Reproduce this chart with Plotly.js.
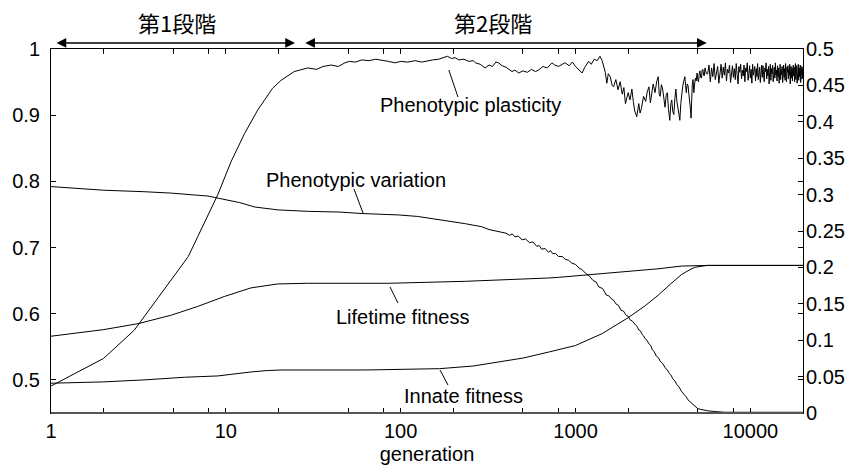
<!DOCTYPE html>
<html>
<head>
<meta charset="utf-8">
<script src="https://cdn.plot.ly/plotly-3.0.1.min.js"></script>
<style>html,body{margin:0;padding:0;background:#fff;}#chart{width:854px;height:466px;}</style>
</head>
<body>
<div id="chart"></div>
<script>
// ---- data ----
// Phenotypic plasticity (right axis)
const plastGen = [
  1, 2, 3, 3.9, 4.9, 6.1, 6.9, 7.9, 9, 10.7, 12.8, 15.2, 18.5, 20.7, 24.6, 29.4,
  33, 36, 40, 44, 48, 51, 55, 60, 66, 72, 78, 85, 93, 100, 110, 121, 132, 142, 152,
  165, 175, 185, 195, 205, 215, 230, 245, 260, 268, 285, 304, 320, 335, 350, 363,
  380, 400, 420, 433, 450, 474, 500, 530, 560, 590, 614, 650, 690, 733, 760, 800,
  840, 873, 920, 960, 1000, 1040, 1090, 1130, 1190, 1230, 1280, 1330, 1380,
  1420, 1450, 1480, 1510, 1540, 1580, 1620, 1650, 1700, 1750, 1800, 1850, 1890,
  1930, 1970, 2000, 2050, 2100, 2140, 2180, 2240, 2300, 2340, 2380, 2450, 2520,
  2570, 2630, 2680, 2720, 2780, 2850, 2910, 2970, 3010, 3050, 3100, 3150, 3200,
  3250, 3300, 3350, 3400, 3460, 3510, 3550, 3600, 3650, 3700, 3750, 3800, 3850,
  3900, 3950, 4000, 4050, 4100, 4150, 4220, 4260, 4300, 4350, 4400, 4450, 4500,
  4540, 4580, 4620, 4650, 4700, 4750, 4800, 4850, 4900, 4960, 5000, 5050, 5100,
  5150, 5200, 5250, 5300, 5350, 5400, 5450, 5500, 5600,
  5700, 5800, 5900, 6000, 6100, 6200, 6300, 6400, 6500, 6600, 6700, 6800,
  6900, 7000, 7100, 7200, 7300, 7400, 7500, 7600, 7700, 7800, 7900, 8000,
  8100, 8200, 8300, 8400, 8500, 8600, 8700, 8800, 8900, 9000, 9100, 9200,
  9300, 9400, 9500, 9600, 9700, 9800, 9900, 10000, 10100, 10200, 10300, 10400,
  10500, 10600, 10700, 10800, 10900, 11000, 11100, 11200, 11300, 11400, 11500, 11600,
  11700, 11800, 11900, 12000, 12100, 12200, 12300, 12400, 12500, 12600, 12700, 12800,
  12900, 13000, 13100, 13200, 13300, 13400, 13500, 13600, 13700, 13800, 13900, 14000,
  14100, 14200, 14300, 14400, 14500, 14600, 14700, 14800, 14900, 15000, 15100, 15200,
  15300, 15400, 15500, 15600, 15700, 15800, 15900, 16000, 16100, 16200, 16300, 16400,
  16500, 16600, 16700, 16800, 16900, 17000, 17100, 17200, 17300, 17400, 17500, 17600,
  17700, 17800, 17900, 18000, 18100, 18200, 18300, 18400, 18500, 18600, 18700, 18800,
  18900, 19000, 19100, 19200, 19300, 19400, 19500, 19600, 19700, 19800, 19900, 20000
];
const plastVal = [
  0.037, 0.075, 0.114, 0.151, 0.183, 0.215, 0.242, 0.272, 0.300, 0.345, 0.384, 0.416, 0.446, 0.457, 0.469, 0.474,
  0.472, 0.476, 0.478, 0.476, 0.481, 0.483, 0.482, 0.485, 0.484, 0.486, 0.485, 0.483, 0.481, 0.483, 0.482, 0.484, 0.482, 0.484, 0.485,
  0.486, 0.488, 0.490, 0.487, 0.488, 0.485, 0.486, 0.483, 0.484, 0.481, 0.479, 0.474, 0.478, 0.476, 0.482, 0.481,
  0.477, 0.475, 0.472, 0.469, 0.471, 0.467, 0.470, 0.468, 0.472, 0.469, 0.471, 0.476, 0.474, 0.481, 0.478, 0.476,
  0.479, 0.481, 0.477, 0.482, 0.476, 0.472, 0.467, 0.475, 0.483, 0.479, 0.486, 0.484, 0.490,
  0.484, 0.475, 0.468, 0.453, 0.466, 0.462, 0.450, 0.448, 0.458, 0.444, 0.455, 0.438, 0.447,
  0.425, 0.436, 0.440, 0.430, 0.445, 0.428, 0.415, 0.407, 0.425, 0.412, 0.418, 0.435, 0.428,
  0.441, 0.448, 0.426, 0.437, 0.452, 0.440, 0.455, 0.462, 0.438, 0.435, 0.451, 0.445, 0.428,
  0.420, 0.436, 0.440, 0.418, 0.402, 0.425, 0.430, 0.414, 0.410, 0.432, 0.445, 0.428, 0.420,
  0.408, 0.402, 0.425, 0.440, 0.448, 0.455, 0.462, 0.450, 0.440, 0.452, 0.450, 0.438, 0.430,
  0.418, 0.405, 0.435, 0.450, 0.458, 0.440, 0.452, 0.460, 0.456, 0.467, 0.458, 0.455, 0.466,
  0.470, 0.461, 0.460, 0.471, 0.472, 0.464, 0.463, 0.474, 0.466,
  0.466, 0.478, 0.455, 0.474, 0.462, 0.480, 0.458, 0.471, 0.476, 0.453, 0.469, 0.479,
  0.460, 0.475, 0.464, 0.481, 0.456, 0.472, 0.467, 0.478, 0.454, 0.470, 0.477, 0.461,
  0.473, 0.458, 0.480, 0.465, 0.452, 0.476, 0.468, 0.479, 0.459, 0.471, 0.463, 0.478,
  0.455, 0.474, 0.469, 0.481, 0.457, 0.466, 0.477, 0.460, 0.472, 0.453, 0.479, 0.464,
  0.470, 0.476, 0.456, 0.473, 0.462, 0.480, 0.458, 0.468, 0.475, 0.454, 0.471, 0.478,
  0.461, 0.477, 0.465, 0.455, 0.474, 0.469, 0.481, 0.459, 0.472, 0.463, 0.476, 0.452,
  0.468, 0.479, 0.457, 0.473, 0.466, 0.478, 0.455, 0.470, 0.475, 0.460, 0.481, 0.464,
  0.471, 0.456, 0.477, 0.462, 0.474, 0.453, 0.469, 0.479, 0.458, 0.472, 0.465, 0.476,
  0.454, 0.470, 0.478, 0.461, 0.473, 0.457, 0.480, 0.466, 0.455, 0.475, 0.468, 0.477,
  0.459, 0.472, 0.464, 0.479, 0.452, 0.469, 0.476, 0.460, 0.474, 0.456, 0.471, 0.478,
  0.463, 0.475, 0.455, 0.470, 0.480, 0.458, 0.467, 0.477, 0.453, 0.472, 0.465, 0.479,
  0.457, 0.474, 0.462, 0.469, 0.478, 0.454, 0.471, 0.466, 0.476, 0.459, 0.473, 0.468
];

// Phenotypic variation (right axis)
const varGen = [1, 2, 3.4, 4.9, 7.9, 9.8, 12, 14.6, 19.8, 29.4, 45, 60, 80, 98, 125, 152, 190, 235, 260, 290,
  320, 363, 400, 420, 435, 450, 470, 495, 518, 545, 570, 600, 620, 640, 670, 700, 720, 740, 770, 800,
  840, 873, 910, 950, 1000, 1050, 1090, 1140, 1200, 1260, 1310, 1360, 1430, 1500, 1550, 1600, 1650, 1700,
  1760, 1820, 1880, 1950, 2000, 2050, 2120, 2200, 2250, 2300, 2350, 2400, 2450, 2500, 2560, 2630, 2690,
  2750, 2820, 2900, 2980, 3050, 3150, 3260, 3350, 3450, 3520, 3600, 3700, 3800, 3900, 4030, 4100, 4200,
  4300, 4400, 4500, 4600, 4700, 4800, 4900, 5000, 5200, 5700, 6300, 7100, 9000, 12000, 20000];
const varVal = [0.311, 0.306, 0.304, 0.302, 0.298, 0.293, 0.289, 0.283, 0.279, 0.277, 0.276, 0.274, 0.273, 0.272, 0.270, 0.267, 0.264, 0.260, 0.258, 0.256,
  0.252, 0.249, 0.247, 0.244, 0.246, 0.242, 0.243, 0.238, 0.239, 0.234, 0.235, 0.229, 0.230, 0.225, 0.226, 0.221, 0.223, 0.219, 0.219, 0.215,
  0.215, 0.211, 0.210, 0.206, 0.204, 0.199, 0.197, 0.192, 0.188, 0.182, 0.180, 0.173, 0.171, 0.162, 0.161, 0.157, 0.155, 0.150,
  0.148, 0.141, 0.140, 0.134, 0.133, 0.128, 0.126, 0.121, 0.119, 0.114, 0.113, 0.108, 0.106, 0.102, 0.100, 0.095, 0.093,
  0.087, 0.084, 0.078, 0.076, 0.071, 0.068, 0.062, 0.059, 0.054, 0.052, 0.047, 0.044, 0.039, 0.036, 0.030, 0.028, 0.024,
  0.022, 0.018, 0.016, 0.013, 0.012, 0.009, 0.008, 0.006, 0.005, 0.003, 0.002, 0.001, 0.001, 0.001, 0.001];

// Lifetime fitness (left axis)
const lifeGen = [1, 2, 3.15, 4.9, 6.9, 9.8, 13.9, 17, 19.8, 29.4, 86, 235, 400, 500, 600, 700, 800, 1000, 1190, 1500, 2100, 3000, 4030, 5000, 5700, 20000];
const lifeVal = [0.566, 0.576, 0.585, 0.598, 0.611, 0.626, 0.639, 0.643, 0.645, 0.646, 0.646, 0.649, 0.651, 0.652, 0.6525, 0.654, 0.655, 0.657, 0.659, 0.661, 0.664, 0.668, 0.672, 0.673, 0.673, 0.673];

// Innate fitness (left axis)
const innateGen = [1, 2, 3.4, 5.8, 9, 11, 13.9, 17, 20.7, 63, 167, 260, 363, 500, 700, 1000, 1420, 2000, 2500, 2970, 3500, 4030, 4400, 4800, 5300, 5700, 20000];
const innateVal = [0.495, 0.497, 0.500, 0.504, 0.506, 0.509, 0.512, 0.514, 0.515, 0.515, 0.517, 0.521, 0.527, 0.533, 0.542, 0.552, 0.570, 0.594, 0.612, 0.628, 0.645, 0.659, 0.665, 0.670, 0.672, 0.673, 0.673];

// axis ticks
const xTickVals = [1, 2, 5, 8, 10, 20, 50, 80, 100, 200, 500, 800, 1000, 2000, 5000, 8000, 10000];
const xTickText = ['1', '', '', '', '10', '', '', '', '100', '', '', '', '1000', '', '', '', '10000'];

// text
const stageLabels = ['第1段階', '第2段階'];
const curveLabels = ['Phenotypic plasticity', 'Phenotypic variation', 'Lifetime fitness', 'Innate fitness'];

// ---- chart ----
const lineStyle = {color: '#000', width: 1};
const traces = [
  {x: plastGen, y: plastVal, yaxis: 'y2', mode: 'lines', line: lineStyle, hoverinfo: 'skip'},
  {x: varGen, y: varVal, yaxis: 'y2', mode: 'lines', line: lineStyle, hoverinfo: 'skip'},
  {x: lifeGen, y: lifeVal, yaxis: 'y', mode: 'lines', line: lineStyle, hoverinfo: 'skip'},
  {x: innateGen, y: innateVal, yaxis: 'y', mode: 'lines', line: lineStyle, hoverinfo: 'skip'}
];

const FONT = 'Liberation Sans, Arial, Helvetica, sans-serif';
const JFONT = 'Noto Sans CJK JP, sans-serif';

function label(text, x, y) {
  return {text: text, xref: 'paper', yref: 'paper', x: x, y: y, xanchor: 'center', yanchor: 'middle',
          showarrow: false, font: {family: FONT, size: 20, color: '#000'}};
}
function stageArrow(xHead, tailPx) {
  return {text: '', xref: 'paper', yref: 'paper', x: xHead, y: 1.0165, axref: 'pixel', ayref: 'pixel',
          ax: tailPx, ay: 0, showarrow: true, arrowside: 'end+start', arrowhead: 2, startarrowhead: 2,
          arrowsize: 1.3, startarrowsize: 1.3, arrowwidth: 1.5, arrowcolor: '#000', standoff: 0, startstandoff: 0};
}
function leader(x0, y0, x1, y1) {
  return {type: 'line', xref: 'paper', yref: 'paper', x0: x0, y0: y0, x1: x1, y1: y1,
          line: {color: '#000', width: 1}};
}

const layout = {
  width: 854, height: 466,
  margin: {l: 51, r: 51, t: 49, b: 53, pad: 0},
  paper_bgcolor: '#fff', plot_bgcolor: '#fff',
  showlegend: false,
  font: {family: FONT, size: 20, color: '#000'},
  xaxis: {
    type: 'log', range: [0, Math.log10(20000)],
    tickmode: 'array', tickvals: xTickVals, ticktext: xTickText,
    ticks: 'inside', ticklen: 5, tickwidth: 1, tickcolor: '#000',
    showline: true, linecolor: '#000', linewidth: 1, mirror: 'ticks',
    showgrid: false, zeroline: false,
    tickfont: {family: FONT, size: 20},
    title: {text: 'generation', font: {family: FONT, size: 20}, standoff: 5}
  },
  yaxis: {
    range: [0.45, 1], tick0: 0.5, dtick: 0.1,
    ticks: 'inside', ticklen: 5, tickwidth: 1, tickcolor: '#000',
    showline: true, linecolor: '#000', linewidth: 1, mirror: 'ticks',
    showgrid: false, zeroline: false,
    tickfont: {family: FONT, size: 20}, ticklabelstandoff: 6
  },
  yaxis2: {
    overlaying: 'y', side: 'right', range: [0, 0.5], tick0: 0, dtick: 0.05,
    ticks: 'inside', ticklen: 5, tickwidth: 1, tickcolor: '#000',
    showline: false, showgrid: false, zeroline: false,
    tickfont: {family: FONT, size: 20}, ticklabelstandoff: 2
  },
  annotations: [
    {text: stageLabels[0], xref: 'paper', yref: 'paper', x: 0.167, y: 1.074, xanchor: 'center', yanchor: 'middle',
     showarrow: false, font: {family: JFONT, size: 22, color: '#000'}},
    {text: stageLabels[1], xref: 'paper', yref: 'paper', x: 0.588, y: 1.074, xanchor: 'center', yanchor: 'middle',
     showarrow: false, font: {family: JFONT, size: 22, color: '#000'}},
    stageArrow(0.3245, -240),
    stageArrow(0.872, -403),
    label(curveLabels[0], 0.5585, 0.846),
    label(curveLabels[1], 0.4056, 0.640),
    label(curveLabels[2], 0.4668, 0.2637),
    label(curveLabels[3], 0.5479, 0.0467)
  ],
  shapes: [
    leader(0.529, 0.9423, 0.5412, 0.8681),
    leader(0.4029, 0.6154, 0.4149, 0.5495),
    leader(0.4508, 0.3462, 0.4614, 0.3022),
    leader(0.5173, 0.1181, 0.5279, 0.0769),
    {type: 'line', xref: 'paper', yref: 'paper', x0: 0, x1: 1, y0: 0, y1: 0, line: {color: '#555', width: 2}}
  ]
};

Plotly.newPlot('chart', traces, layout, {staticPlot: true, displayModeBar: false});
</script>
</body>
</html>
